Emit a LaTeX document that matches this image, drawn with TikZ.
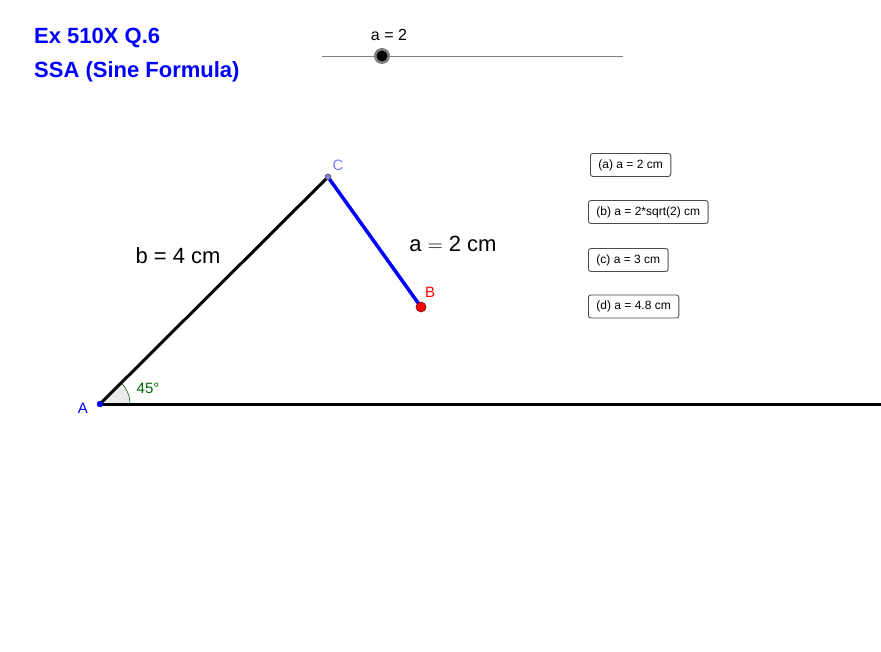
\documentclass[tikz,border=0pt]{standalone}
\usepackage{fontspec}
\setmainfont{Liberation Sans}
\usetikzlibrary{arrows.meta,calc}

\definecolor{ggblue}{RGB}{0,0,255}
\definecolor{ggviolet}{RGB}{125,125,255}
\definecolor{gggreen}{RGB}{0,100,0}

\begin{document}
\begin{tikzpicture}[x=1pt,y=-1pt,
    title/.style={ggblue,font=\bfseries\fontsize{22}{26}\selectfont,anchor=west,inner sep=0pt},
    btn/.style={draw=gray!60!black,line width=0.9pt,rounded corners=2.5pt,fill=white,
      font=\fontsize{12}{14}\selectfont,minimum height=23pt,inner xsep=8pt,anchor=west},
    side/.style={line width=3pt},
    lbl/.style={font=\fontsize{15}{18}\selectfont,inner sep=0pt}]
  \useasboundingbox (0,0) rectangle (881,652);
  \node[title] (t1) at (34,38) {Ex 510X Q.6};
  \node[title] (t2) at (34,72) {SSA (Sine Formula)};
  % slider
  \coordinate (S0) at (322,56);
  \coordinate (S1) at (623,56);
  \draw[gray,line width=0.8pt] (S0) -- (S1);
  \coordinate (K) at (382,56);
  \fill[gray] (K) circle(8);
  \fill[black] (K) circle(5.5);
  \node[font=\fontsize{16}{19}\selectfont] (sl) at (389,35) {a = 2};
  % triangle
  \coordinate (A) at (100,404);
  \coordinate (C) at (328,177);
  \coordinate (B) at (421,307);
  \coordinate (E) at (881,404);
  \fill[gray!15,draw=gggreen,line width=0.6pt] (A) -- ($(A)+(0:30)$)
    arc[start angle=0,end angle=-45,radius=30] -- cycle;
  \draw[side] (A) -- (E);
  \draw[side] (A) -- (C);
  \draw[ggblue,line width=3.5pt] (C) -- (B);
  \fill[ggblue,draw=ggblue!60!black] (A) circle(3);
  \fill[ggviolet!70!gray,draw=gray!50!black,line width=0.5pt] (C) circle(3);
  \fill[red,draw=red!40!black,line width=0.6pt] (B) circle(5);
  \node[lbl,ggblue] (la) at (83,408) {A};
  \node[lbl,ggviolet] (lc) at (338,165) {C};
  \node[lbl,red] (lb) at (430,292) {B};
  \node[lbl,gggreen] (ang) at (148,388) {45°};
  \node[font=\fontsize{22}{26}\selectfont] (sb) at (178,256) {b = 4 cm};
  \node[font=\fontsize{22}{26}\selectfont] (sa) at (453,244) {a\;$=$\;2 cm};
  % buttons
  \node[btn] (ba) at (590,165) {(a) a = 2 cm};
  \node[btn] (bb) at (588,212) {(b) a = 2*sqrt(2) cm};
  \node[btn] (bc) at (588,260) {(c) a = 3 cm};
  \node[btn] (bd) at (588,306.5) {(d) a = 4.8 cm};
\end{tikzpicture}
\end{document}
